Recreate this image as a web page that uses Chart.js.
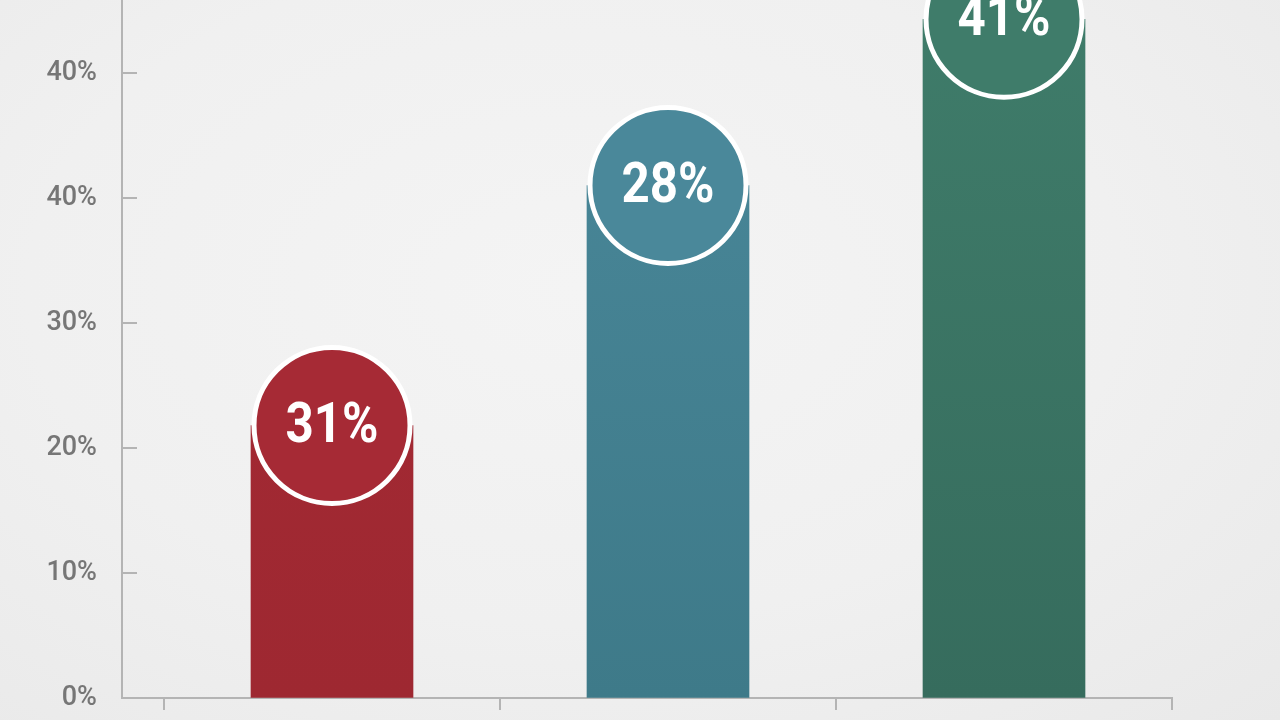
<!DOCTYPE html>
<html lang="en">
<head>
    <meta charset="UTF-8">
    <title>Share chart</title>
    <script src="https://cdn.jsdelivr.net/npm/chart.js"></script>
    <style>
        html, body {
            margin: 0;
            padding: 0;
            width: 1280px;
            height: 720px;
            overflow: hidden;
            background: radial-gradient(ellipse at 45% 40%, #f4f4f4 0%, #f0f0f0 55%, #e9e9e9 100%);
            font-family: Roboto, Arial, sans-serif;
        }
        #chartContainer {
            width: 1280px;
            height: 720px;
        }
    </style>
</head>
<body>

<div id="chartContainer">
    <canvas id="barChart" width="1280" height="720"></canvas>
</div>

<script>
    // Data
    const categories = ['A', 'B', 'C'];
    const barValues = [21.8, 41.0, 54.3];          // bar heights on the axis scale
    const bubbleLabels = ['31%', '28%', '41%'];      // text shown in the circles
    const yTickValues = [0, 10, 20, 30, 40, 50];
    const yTickLabels = ['0%', '10%', '20%', '30%', '40%', '40%'];
    const xTickValues = [0, 1, 2, 3];

    const topColors = ['#a62a35', '#4a889a', '#3f7c6a'];
    const bottomColors = ['#9e2831', '#3e7a89', '#366c5d'];

    const ctx = document.getElementById('barChart').getContext('2d');

    // circle with the value label sitting on top of each bar
    const bubblePlugin = {
        id: 'bubbles',
        afterDatasetsDraw(chart) {
            const c = chart.ctx;
            const meta = chart.getDatasetMeta(0);
            meta.data.forEach((bar, i) => {
                c.save();
                c.beginPath();
                c.arc(bar.x, bar.y, 78, 0, Math.PI * 2);
                c.fillStyle = topColors[i];
                c.fill();
                c.lineWidth = 5;
                c.strokeStyle = '#ffffff';
                c.stroke();
                // slightly narrowed bold text, like the original
                c.translate(bar.x, bar.y + 2);
                c.scale(0.88, 1);
                c.fillStyle = '#ffffff';
                c.font = 'bold 56px Roboto, Arial, sans-serif';
                c.textAlign = 'center';
                c.textBaseline = 'middle';
                c.fillText(bubbleLabels[i], 0, 0);
                c.restore();
            });
        }
    };

    // short tick marks pointing into the plot from the y axis
    const innerTicks = {
        id: 'innerTicks',
        afterDraw(chart) {
            const c = chart.ctx;
            const y = chart.scales.y;
            const left = chart.chartArea.left;
            c.save();
            c.strokeStyle = '#b4b4b4';
            c.lineWidth = 2;
            yTickValues.slice(1).forEach(v => {
                const py = Math.round(y.getPixelForValue(v));
                c.beginPath();
                c.moveTo(left, py);
                c.lineTo(left + 15, py);
                c.stroke();
            });
            c.restore();
        }
    };

    const barChart = new Chart(ctx, {
        type: 'bar',
        data: {
            datasets: [{
                label: 'Share',
                data: categories.map((c, i) => ({ x: i + 0.5, y: barValues[i] })),
                backgroundColor: (context) => {
                    const area = context.chart.chartArea;
                    const i = context.dataIndex;
                    if (!area || i === undefined) return topColors[i || 0];
                    const g = context.chart.ctx.createLinearGradient(0, area.top, 0, area.bottom);
                    g.addColorStop(0, topColors[i]);
                    g.addColorStop(1, bottomColors[i]);
                    return g;
                },
                borderWidth: 0,
                barThickness: 162
            }]
        },
        options: {
            responsive: false,
            animation: false,
            layout: {
                padding: { top: 0, right: 108, bottom: 10, left: 0 }
            },
            plugins: {
                legend: { display: false },
                tooltip: { enabled: false }
            },
            scales: {
                x: {
                    type: 'linear',
                    min: -0.125,
                    max: 3,
                    offset: false,
                    afterBuildTicks: (scale) => {
                        scale.ticks = xTickValues.map(v => ({ value: v }));
                    },
                    ticks: { display: false },
                    grid: {
                        offset: false,
                        drawOnChartArea: false,
                        drawTicks: true,
                        tickLength: 12,
                        color: '#b4b4b4',
                        lineWidth: 2
                    },
                    border: { display: true, color: '#b4b4b4', width: 2 }
                },
                y: {
                    min: 0,
                    max: 55.84,
                    afterBuildTicks: (scale) => {
                        scale.ticks = yTickValues.map(v => ({ value: v }));
                    },
                    afterFit: (scale) => {
                        scale.width = 122;
                        scale.paddingTop = 0;
                        scale.paddingBottom = 0;
                    },
                    ticks: {
                        padding: 25,
                        color: '#767676',
                        font: { family: 'Roboto', size: 27, weight: '500' },
                        callback: (value, index) => yTickLabels[index]
                    },
                    grid: {
                        drawOnChartArea: false,
                        drawTicks: false
                    },
                    border: { display: true, color: '#b4b4b4', width: 2 }
                }
            }
        },
        plugins: [bubblePlugin, innerTicks]
    });
</script>

</body>
</html>
